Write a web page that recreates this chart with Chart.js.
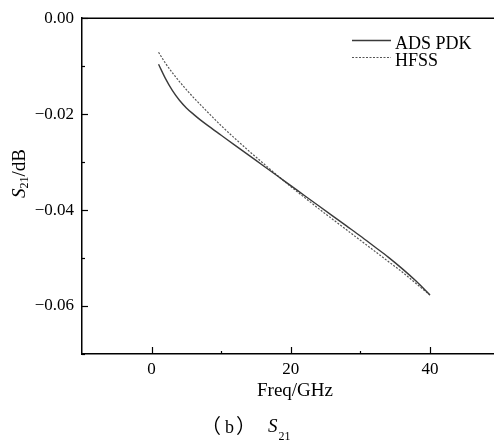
<!DOCTYPE html>
<html><head><meta charset="utf-8">
<script src="https://cdn.jsdelivr.net/npm/chart.js@4"></script>
<style>html,body{margin:0;padding:0;background:#fff;} #wrap{width:494px;height:442px;position:relative;} canvas{display:block}</style>
</head><body><div id="wrap"><canvas id="c" width="494" height="442"></canvas></div>
<script>
const freq   = [1, 2, 3, 4, 5, 6, 7, 8, 10, 12, 14, 16, 18, 20, 22, 24, 26, 28, 30, 32, 34, 36, 38, 40];
const adsPdk = [-0.0096, -0.0126, -0.0151, -0.0171, -0.0187, -0.0200, -0.0212, -0.0223, -0.0244, -0.0265, -0.0286, -0.0307, -0.0328, -0.0349, -0.0370, -0.0391, -0.0412, -0.0433, -0.0454, -0.0476, -0.0498, -0.0522, -0.0548, -0.0577];
const hfss   = [-0.0071, -0.0094, -0.0114, -0.0132, -0.0149, -0.0165, -0.0180, -0.0195, -0.0224, -0.0251, -0.0277, -0.0302, -0.0327, -0.0351, -0.0374, -0.0397, -0.0419, -0.0441, -0.0463, -0.0485, -0.0507, -0.0529, -0.0553, -0.0577];
const seriesNames = ['ADS PDK', 'HFSS'];
const xTickValues = [0, 10, 20, 30, 40];
const xTickLabels = ['0', '', '20', '', '40'];
const yTickValues = [0, -0.01, -0.02, -0.03, -0.04, -0.05, -0.06, -0.07];
const yTickLabels = ['0.00', '', '\u22120.02', '', '\u22120.04', '', '\u22120.06', ''];
const xTitle = 'Freq/GHz';
const captionParts = ['\uFF08', 'b', '\uFF09'];

const SERIF = "'Liberation Serif','Times New Roman',serif";
const CJK = "'Noto Sans CJK SC','Noto Sans CJK JP',sans-serif";

function labelFor(values, labels, v) {
  const i = values.findIndex(t => Math.abs(t - v) < 1e-9);
  return i >= 0 ? labels[i] : '';
}

const decor = {
  id: 'decor',
  afterDraw(chart) {
    const ctx = chart.ctx, a = chart.chartArea;
    const xs = chart.scales.x, ys = chart.scales.y;
    ctx.save();
    ctx.strokeStyle = '#000';
    ctx.lineWidth = 1.5;
    // top frame line
    ctx.beginPath(); ctx.moveTo(a.left, a.top); ctx.lineTo(a.right, a.top); ctx.stroke();
    // inside ticks
    ctx.lineWidth = 1.2;
    yTickValues.forEach((v, i) => {
      const y = Math.round(ys.getPixelForValue(v)) + 0.5;
      const len = yTickLabels[i] ? 6 : 3;
      ctx.beginPath(); ctx.moveTo(a.left, y); ctx.lineTo(a.left + len, y); ctx.stroke();
    });
    xTickValues.forEach((v, i) => {
      const x = Math.round(xs.getPixelForValue(v)) + 0.5;
      const len = xTickLabels[i] ? 7 : 3;
      ctx.beginPath(); ctx.moveTo(x, a.bottom); ctx.lineTo(x, a.bottom - len); ctx.stroke();
    });
    // legend
    const legY = [40, 57], legTextY = [49, 66];
    chart.data.datasets.forEach((ds, i) => {
      ctx.strokeStyle = ds.borderColor;
      ctx.lineWidth = ds.borderWidth;
      ctx.setLineDash(ds.borderDash || []);
      ctx.beginPath(); ctx.moveTo(352, legY[i] + 0.5); ctx.lineTo(391, legY[i] + 0.5); ctx.stroke();
      ctx.setLineDash([]);
      ctx.fillStyle = '#000';
      ctx.font = '18px ' + SERIF;
      ctx.textBaseline = 'alphabetic';
      ctx.textAlign = 'left';
      ctx.fillText(ds.label, 395, legTextY[i]);
    });
    // x title
    ctx.fillStyle = '#000';
    ctx.font = '19px ' + SERIF;
    ctx.textAlign = 'center';
    ctx.textBaseline = 'alphabetic';
    ctx.fillText(xTitle, 295, 396);
    // y title: S21/dB rotated
    ctx.save();
    ctx.translate(25, 198);
    ctx.rotate(-Math.PI / 2);
    ctx.textAlign = 'left';
    ctx.font = 'italic 19px ' + SERIF;
    ctx.fillText('S', 0, 0);
    let w = ctx.measureText('S').width;
    ctx.font = '12px ' + SERIF;
    ctx.fillText('21', w, 3);
    w += ctx.measureText('21').width;
    ctx.font = '19px ' + SERIF;
    ctx.fillText('/dB', w, 0);
    ctx.restore();
    // caption
    ctx.textAlign = 'left';
    ctx.font = '20px ' + CJK;
    ctx.fillText(captionParts[0], 201, 433);
    ctx.font = '18px ' + SERIF;
    ctx.fillText(captionParts[1], 225, 433);
    ctx.font = '20px ' + CJK;
    ctx.fillText(captionParts[2], 236, 433);
    ctx.font = 'italic 19px ' + SERIF;
    ctx.fillText('S', 268, 432);
    const sw = ctx.measureText('S').width;
    ctx.font = '12px ' + SERIF;
    ctx.fillText('21', 268 + sw + 1, 440);
    ctx.restore();
  }
};

new Chart(document.getElementById('c'), {
  type: 'line',
  data: {
    datasets: [
      { label: seriesNames[0], data: freq.map((f, i) => ({ x: f, y: adsPdk[i] })),
        borderColor: '#3a3a3a', borderWidth: 1.4, pointRadius: 0, fill: false, cubicInterpolationMode: 'monotone' },
      { label: seriesNames[1], data: freq.map((f, i) => ({ x: f, y: hfss[i] })),
        borderColor: '#555555', borderWidth: 1.2, borderDash: [2, 1.5], pointRadius: 0, fill: false, cubicInterpolationMode: 'monotone' }
    ]
  },
  options: {
    responsive: false,
    animation: false,
    devicePixelRatio: 1,
    layout: { padding: { top: 17, left: 0, right: 0, bottom: 0 } },
    plugins: { legend: { display: false }, tooltip: { enabled: false } },
    scales: {
      x: {
        type: 'linear', min: -10, max: 49.2,
        afterBuildTicks: s => { s.ticks = xTickValues.map(v => ({ value: v })); },
        afterFit: s => { s.height = 88; },
        grid: { display: false, drawTicks: false },
        border: { display: true, color: '#000', width: 1.5 },
        ticks: { padding: 5, color: '#000', font: { family: SERIF, size: 17 }, maxRotation: 0, autoSkip: false,
          callback: v => labelFor(xTickValues, xTickLabels, v) }
      },
      y: {
        type: 'linear', min: -0.07, max: 0,
        afterBuildTicks: s => { s.ticks = yTickValues.map(v => ({ value: v })); },
        afterFit: s => { s.width = 82; },
        grid: { display: false, drawTicks: false },
        border: { display: true, color: '#000', width: 1.5 },
        ticks: { padding: 8, color: '#000', font: { family: SERIF, size: 17 }, autoSkip: false,
          callback: v => labelFor(yTickValues, yTickLabels, v) }
      }
    }
  },
  plugins: [decor]
});
</script>
</body></html>
